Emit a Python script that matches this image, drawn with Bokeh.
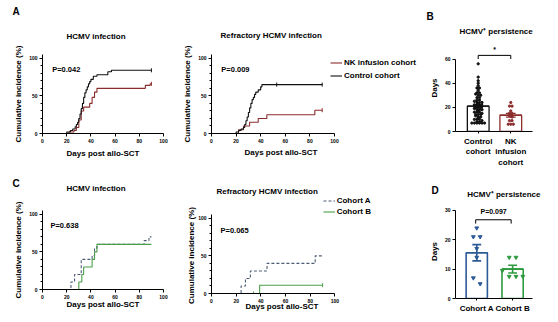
import numpy as np
from bokeh.plotting import figure
from bokeh.layouts import row, column
from bokeh.models import Range1d, FixedTicker, Legend, LegendItem, Title
from bokeh.embed import file_html
from bokeh.resources import INLINE
from bokeh.core.properties import value

FONT = "Liberation Sans"
RED = "#8c2d2d"
BLACK = "#111111"
DASH_BLUE = "#4d5d75"
GREEN_C = "#4a9e4a"
BLUE_D = "#2c5a97"
GREEN_D = "#2e9a3e"

# ---------------- data ----------------
# Panel A - HCMV infection
a1_ctrl_t = [0, 20, 23, 25, 27, 28, 29, 30, 31, 32, 33, 34, 35, 36, 37, 38, 39, 40, 42, 45, 54, 57, 90]
a1_ctrl_v = [0, 2, 4, 6, 9, 12, 15, 20, 26, 33, 40, 48, 54, 58, 62, 66, 69, 72, 76, 78, 82, 84, 84]
a1_nk_t = [0, 22, 26, 28, 30, 32, 34, 39, 41, 43, 45, 85, 89, 90]
a1_nk_v = [0, 2, 4, 8, 18, 30, 35, 40, 48, 55, 60, 64, 66, 66]
# Panel A - refractory HCMV infection
a2_ctrl_t = [0, 20, 22, 24, 26, 27, 28, 29, 30, 31, 32, 33, 34, 35, 36, 38, 40, 41, 90]
a2_ctrl_v = [0, 2, 4, 6, 8, 12, 17, 22, 28, 34, 40, 45, 48, 52, 55, 58, 62, 65, 65]
a2_ctrl_censor = [53, 90]
a2_nk_t = [0, 22, 26, 31, 38, 45, 84, 90]
a2_nk_v = [0, 5, 10, 15, 20, 25, 31, 31]
# Panel B - HCMV+ persistence (days)
b_ctrl = [56, 45, 42, 40, 38, 36, 36, 34, 32, 32, 31, 30, 30, 28, 28, 26, 26, 25, 24, 24,
          24, 23, 22, 22, 22, 21, 20, 20, 20, 19, 18, 18, 18, 17, 16, 16, 16, 15, 14, 14,
          14, 13, 12, 12, 11, 10, 10, 10, 9, 8, 8, 7, 7, 7, 7, 7, 7]
b_nk = [24, 21, 21, 17, 15, 15, 14, 13, 12, 9, 9, 6, 6, 6]
b_cats = ["Control\ncohort", "NK\ninfusion\ncohort"]
# Panel C - HCMV infection
c1_a_t = [0, 23.5, 26.5, 32, 41, 43, 45, 84, 88, 90]
c1_a_v = [0, 10, 20, 40, 45, 55, 60, 65, 70, 70]
c1_b_t = [0, 30, 32.5, 34, 41, 43, 45, 90]
c1_b_v = [0, 10, 20, 30, 40, 50, 60, 60]
# Panel C - refractory
c2_a_t = [0, 24, 27.5, 31.5, 45, 84, 90]
c2_a_v = [0, 10, 20, 30, 40, 50, 50]
c2_b_t = [0, 39, 90]
c2_b_v = [0, 11, 11]
c2_b_censor = [34, 90]
# Panel D - HCMV+ persistence (days)
d_a = [24, 21, 21, 17, 14, 7, 5]
d_b = [14, 14, 9.5, 7.5, 7.5, 7.5]
d_cats = ["Cohort A", "Cohort B"]

km_x_ticks = [0, 20, 40, 60, 80, 100]
km_y_ticks = [0, 50, 100]
km_xlabel = "Days post allo-SCT"
km_ylabel = "Cumulative incidence (%)"


# ---------------- helpers ----------------
def make_fig(geo, xr, yr):
    fx0, fy0, bl, bt, fw, fh, br, bb = geo
    p = figure(width=bl + fw + br, height=bt + fh + bb, x_range=xr, y_range=yr,
               min_border_left=bl, min_border_top=bt, min_border_right=br,
               min_border_bottom=bb, output_backend="svg", toolbar_location=None)
    p.xgrid.visible = False
    p.ygrid.visible = False
    p.outline_line_color = None
    for ax in (p.xaxis[0], p.yaxis[0]):
        ax.axis_line_color = "black"
        ax.axis_line_width = 1
        ax.major_tick_line_color = "black"
        ax.major_tick_in = 0
        ax.major_tick_out = 3
        ax.minor_tick_line_color = None
        ax.major_label_text_font = FONT
        ax.major_label_text_font_size = "5px"
        ax.major_label_text_font_style = "bold"
        ax.major_label_text_color = "black"
        ax.axis_label_text_font = FONT
        ax.axis_label_text_font_size = "8px"
        ax.axis_label_text_font_style = "bold"
        ax.axis_label_text_color = "black"
        ax.major_label_standoff = 2
        ax.axis_label_standoff = 3
    return p


def add_title(p, text, offset, standoff, size="8px", side="above"):
    t = Title(text=text, align="left", offset=offset, standoff=standoff,
              text_font=FONT, text_font_size=size, text_font_style="bold", text_color="black")
    p.add_layout(t, side)


def km_fig(geo, x_end=100, y_end=105, xlabel_pos=None, ylabel_pos=None):
    p = make_fig(geo, Range1d(0, x_end), Range1d(0, y_end))
    p.xaxis.ticker = FixedTicker(ticks=km_x_ticks)
    p.xaxis.bounds = (0, 100)
    p.yaxis.ticker = FixedTicker(ticks=km_y_ticks, minor_ticks=list(range(0, 101, 10)))
    p.yaxis.bounds = (0, 105)
    p.yaxis.minor_tick_line_color = "black"
    p.yaxis.minor_tick_in = 0
    p.yaxis.minor_tick_out = 2
    # the frame may be larger than the 0-100 / 0-105 axes (room for the legend):
    # then the axis titles are placed under / beside the drawn axis part
    if xlabel_pos is None:
        p.xaxis.axis_label = km_xlabel
    else:
        add_title(p, km_xlabel, xlabel_pos[0], xlabel_pos[1], side="below")
    if ylabel_pos is None:
        p.yaxis.axis_label = km_ylabel
    else:
        add_title(p, km_ylabel, ylabel_pos[0], ylabel_pos[1], side="left")
    return p


def censor(p, ts, t, v, color):
    ys = [v[np.searchsorted(t, x, side="right") - 1] for x in ts]
    p.scatter(ts, ys, marker="dash", angle=np.pi / 2, size=4, line_color=color, line_width=1)


def swarm(vals, center, binw, step):
    vals = np.asarray(vals, dtype=float)
    xs = np.zeros(len(vals))
    bins = np.floor(vals / binw)
    for b in np.unique(bins):
        idx = np.where(bins == b)[0]
        n = len(idx)
        xs[idx] = center + (np.arange(n) - (n - 1) / 2) * step
    return xs


def bar_panel(p, groups, colors, markers, msize, binw, step, bw, capw, lw):
    for i, (vals, col, mk) in enumerate(zip(groups, colors, markers)):
        c = i + 1
        m = float(np.mean(vals))
        sem = float(np.std(vals, ddof=1) / np.sqrt(len(vals)))
        p.vbar(x=[c], top=[m], bottom=0, width=bw, fill_color="white",
               line_color=col, line_width=lw)
        xs = swarm(vals, c, binw, step)
        p.scatter(xs, vals, marker=mk, size=msize, fill_color=col, line_color=col)
        p.segment([c], [m - sem], [c], [m + sem], line_color=col, line_width=lw)
        p.segment([c - capw, c - capw], [m - sem, m + sem], [c + capw, c + capw],
                  [m - sem, m + sem], line_color=col, line_width=lw)
        p.segment([c - bw / 2], [m], [c + bw / 2], [m], line_color=col, line_width=lw)


def style_legend(lg, h):
    lg.border_line_color = None
    lg.background_fill_alpha = 0
    lg.padding = 0
    lg.margin = 0
    lg.spacing = 0
    lg.glyph_width = 12
    lg.glyph_height = h
    lg.label_height = h
    lg.label_standoff = 2
    lg.label_text_font = FONT
    lg.label_text_font_size = "8px"
    lg.label_text_font_style = "bold"
    lg.label_text_color = "black"


def ptext(p, x, y, s, size="7.5px", align="left"):
    p.text(x=[x], y=[y], text=[s], text_font=value(FONT), text_font_size=size,
           text_font_style="bold", text_align=align, text_baseline="middle", text_color="black")


# ---------------- Panel A1 ----------------
g_a1 = (0, 0, 42, 54, 121, 79, 17, 27)
pa1 = km_fig(g_a1)
add_title(pa1, "HCMV infection", 24, 26.5)
add_title(pa1, "A", -30, 0, size="10px")
pa1.step(a1_nk_t, a1_nk_v, mode="after", line_color=RED, line_width=1.1)
pa1.step(a1_ctrl_t, a1_ctrl_v, mode="after", line_color=BLACK, line_width=1.1)
censor(pa1, [90], a1_nk_t, a1_nk_v, RED)
censor(pa1, [90], a1_ctrl_t, a1_ctrl_v, BLACK)
ptext(pa1, 8, 85, "P=0.042")

# ---------------- Panel A2 ----------------
g_a2 = (180, 0, 31, 54, 214, 79, 0, 27)
pa2 = km_fig(g_a2, x_end=214 / 1.23, xlabel_pos=(33, 0))
add_title(pa2, "Refractory  HCMV infection", 9, 28.5)
r_nk = pa2.step(a2_nk_t, a2_nk_v, mode="after", line_color=RED, line_width=1.1)
r_ct = pa2.step(a2_ctrl_t, a2_ctrl_v, mode="after", line_color=BLACK, line_width=1.1)
censor(pa2, [90], a2_nk_t, a2_nk_v, RED)
censor(pa2, a2_ctrl_censor, a2_ctrl_t, a2_ctrl_v, BLACK)
ptext(pa2, 8, 85, "P=0.009")
leg_a = Legend(items=[LegendItem(label="NK infusion cohort", renderers=[r_nk]),
                      LegendItem(label="Control cohort", renderers=[r_ct])],
               location=(119, 51.5))
style_legend(leg_a, 13)
pa2.add_layout(leg_a)

# ---------------- Panel B ----------------
g_b = (425, 0, 29, 44, 78, 89, 26, 37)
pb = make_fig(g_b, Range1d(0.303, 2.667), Range1d(0, 72))
pb.yaxis.ticker = FixedTicker(ticks=[0, 20, 40, 60])
pb.yaxis.bounds = (0, 60)
pb.xaxis.ticker = FixedTicker(ticks=[1, 2])
pb.xaxis.major_label_overrides = {1: b_cats[0], 2: b_cats[1]}
pb.xaxis.major_label_text_font_size = "8px"
pb.xaxis.major_label_standoff = 3
pb.xaxis.major_tick_out = 2
pb.yaxis.axis_label = "Days"
add_title(pb, "HCMV\u207a persistence", 4, 16.5)
add_title(pb, "B", -29, -10, size="10px")
bar_panel(pb, [b_ctrl, b_nk], [BLACK, RED], ["circle", "circle"], 2.3, 1.5, 0.078, 0.667, 0.15, 1.3)
b_br_y = 63
pb.line([1, 1, 2, 2], [b_br_y - 3, b_br_y, b_br_y, b_br_y - 3], line_color="black", line_width=1)
ptext(pb, 1.5, b_br_y + 4.5, "*", size="7px", align="center")

# ---------------- Panel C1 ----------------
g_c1 = (0, 160, 42, 50, 125, 79, 13, 33)
pc1 = km_fig(g_c1)
pc1.xaxis.axis_label_standoff = -2
add_title(pc1, "HCMV infection", 24, 34.5)
add_title(pc1, "C", -30, -49, size="10px")
pc1.step(c1_a_t, c1_a_v, mode="after", line_color=DASH_BLUE, line_width=1.1, line_dash="3 2")
pc1.step(c1_b_t, c1_b_v, mode="after", line_color=GREEN_C, line_width=1.1)
ptext(pc1, 6.6, 85, "P=0.638")

# ---------------- Panel C2 ----------------
g_c2 = (180, 160, 30, 35, 215, 98, 0, 29)
pc2 = km_fig(g_c2, x_end=215 / 1.24, y_end=98 / (79 / 105), xlabel_pos=(34, -11),
             ylabel_pos=(-10.5, 0))
add_title(pc2, "Refractory  HCMV infection", 5, 0)
r_a = pc2.step(c2_a_t, c2_a_v, mode="after", line_color=DASH_BLUE, line_width=1.1, line_dash="3 2")
r_b = pc2.step(c2_b_t, c2_b_v, mode="after", line_color=GREEN_C, line_width=1.1)
censor(pc2, c2_b_censor, c2_b_t, c2_b_v, GREEN_C)
ptext(pc2, 7.3, 84, "P=0.065")
leg_c = Legend(items=[LegendItem(label="Cohort A", renderers=[r_a]),
                      LegendItem(label="Cohort B", renderers=[r_b])],
               location=(111.7, 76.5))
style_legend(leg_c, 11)
pc2.add_layout(leg_c)

# ---------------- Panel D ----------------
g_d = (425, 170, 30, 34, 87, 94, 16, 24)
pd_ = make_fig(g_d, Range1d(0.407, 2.555), Range1d(0, 32))
pd_.yaxis.ticker = FixedTicker(ticks=[0, 10, 20, 30])
pd_.yaxis.bounds = (0, 30)
pd_.xaxis.ticker = FixedTicker(ticks=[1, 2])
pd_.xaxis.major_label_overrides = {1: d_cats[0], 2: d_cats[1]}
pd_.xaxis.major_label_text_font_size = "8px"
pd_.xaxis.major_label_standoff = 3
pd_.xaxis.major_tick_out = 2
pd_.yaxis.axis_label = "Days"
add_title(pd_, "HCMV\u207a persistence", 11.7, 10.5)
add_title(pd_, "D", -24, -27, size="10px")
bar_panel(pd_, [d_a, d_b], [BLUE_D, GREEN_D], ["inverted_triangle", "inverted_triangle"],
          3.8, 2.5, 0.19, 0.593, 0.123, 1.6)
d_br_y = 26.8
pd_.line([0.97, 0.97, 1.96, 1.96], [d_br_y - 1.3, d_br_y, d_br_y, d_br_y - 1.3],
         line_color="black", line_width=1)
ptext(pd_, 1.47, 29.5, "P=0.097", size="7px", align="center")

layout = row(column(pa1, pc1), column(pa2, pc2), column(pb, pd_))
open("out.html", "w").write(file_html(layout, INLINE))
